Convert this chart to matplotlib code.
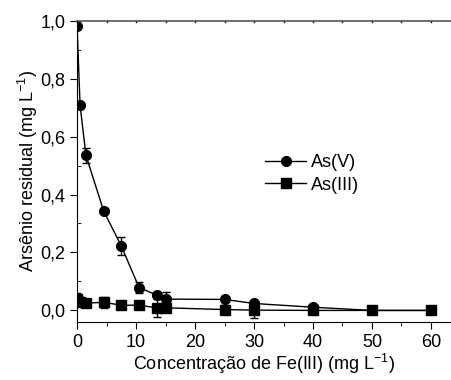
import matplotlib
matplotlib.use("Agg")
import matplotlib.pyplot as plt
from matplotlib.lines import Line2D
from matplotlib.ticker import MultipleLocator, FuncFormatter

plt.rcParams['font.family'] = ['Liberation Sans', 'DejaVu Sans']
plt.rcParams['mathtext.fontset'] = 'custom'
plt.rcParams['mathtext.rm'] = 'Liberation Sans'
plt.rcParams['mathtext.default'] = 'regular'

# dados
fe_conc = [0, 0.5, 1.5, 4.5, 7.5, 10.5, 13.5, 15, 25, 30, 40, 50, 60]
as_v = [0.98, 0.708, 0.535, 0.343, 0.222, 0.079, 0.053, 0.039, 0.038, 0.024, 0.011, 0.0, 0.0]
as_v_err = [0.0, 0.012, 0.025, 0.0, 0.03, 0.018, 0.0, 0.026, 0.0, 0.0, 0.0, 0.0, 0.0]
as_iii = [0.04, 0.03, 0.025, 0.028, 0.018, 0.018, 0.009, 0.009, 0.003, 0.001, 0.0, 0.0, 0.0]
as_iii_err = [0.02, 0.015, 0.012, 0.018, 0.0, 0.0, 0.03, 0.0, 0.015, 0.028, 0.0, 0.0, 0.0]

fig = plt.figure(figsize=(4.51, 3.8), dpi=100)
ax = fig.add_axes([0.171, 0.1526, 0.829, 0.793])

ax.errorbar(fe_conc, as_v, yerr=as_v_err, fmt='-o', color='black', lw=1,
            ms=7, capsize=3, elinewidth=1, capthick=1)
ax.errorbar(fe_conc, as_iii, yerr=as_iii_err, fmt='-s', color='black', lw=1,
            ms=6.5, capsize=3, elinewidth=1, capthick=1)

ax.set_xlim(0, 63.4)
ax.set_ylim(-0.04, 1.0)

ax.spines['right'].set_visible(False)
ax.spines['top'].set_color('#555555')
ax.spines['top'].set_linewidth(1.2)

ax.xaxis.set_major_locator(MultipleLocator(10))
ax.xaxis.set_minor_locator(MultipleLocator(5))
ax.yaxis.set_major_locator(MultipleLocator(0.2))
ax.yaxis.set_minor_locator(MultipleLocator(0.1))
ax.yaxis.set_major_formatter(FuncFormatter(lambda v, p: f"{v:.1f}".replace('.', ',')))

ax.tick_params(axis='x', which='major', direction='out', length=5, labelsize=13, top=False)
ax.tick_params(axis='x', which='minor', direction='out', length=3, top=False)
ax.tick_params(axis='y', which='major', direction='out', length=5, labelsize=13, right=False)
ax.tick_params(axis='y', which='minor', direction='in', length=3, right=False)

# marcas no eixo superior
for xv in range(0, 64, 5):
    ax.plot([xv, xv], [0.996, 1.0], color='black', lw=1, clip_on=False)

ax.set_xlabel('Concentração de Fe(III) (mg L$^{-1}$)', fontsize=13, labelpad=1)
ax.set_ylabel('Arsênio residual (mg L$^{-1}$)', fontsize=13, labelpad=0)

handles = [Line2D([], [], color='black', lw=1, marker='o', ms=7),
           Line2D([], [], color='black', lw=1, marker='s', ms=6.5)]
ax.legend(handles, ['As(V)', 'As(III)'], loc='upper left', bbox_to_anchor=(0.502, 0.557),
          frameon=False, fontsize=13, borderpad=0, borderaxespad=0,
          handlelength=2.3, handletextpad=0.25, labelspacing=0.3)

fig.savefig('out.png', dpi=100)
